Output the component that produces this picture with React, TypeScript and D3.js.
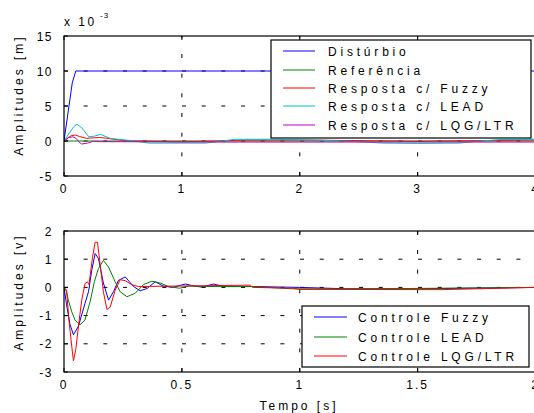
import React, { useEffect } from "react";
import * as d3 from "d3";

type P = [number, number];

// ---------- top plot data (x 1e-3 m) ----------
const topXTicks = [0, 1, 2, 3, 4];
const topYTicks = [-5, 0, 5, 10, 15];
const disturbio: P[] = [[0, 0], [0.07, 8.3], [0.1, 10], [4, 10]];
const referencia: P[] = [[0, 0], [4, 0]];
const respFuzzy: P[] = [
  [0, 0], [0.03, 0.4], [0.06, 0.75], [0.095, 0.86], [0.13, 0.65], [0.19, 0.38], [0.25, 0.45],
  [0.3, 0.5], [0.35, 0.42], [0.42, 0.25], [0.5, 0.1], [0.6, 0.0], [0.8, -0.05], [1.0, -0.1],
  [1.3, 0.0], [1.5, 0.12], [2.0, 0.15], [2.5, 0.05], [3.0, -0.05], [3.5, 0.05], [4.0, 0.15],
];
const respLead: P[] = [
  [0, 0], [0.04, 1.0], [0.08, 2.0], [0.11, 2.4], [0.15, 1.9], [0.21, 0.6], [0.26, 0.7],
  [0.31, 0.95], [0.39, 0.38], [0.52, 0.14], [0.6, 0.0], [0.72, -0.3], [1.0, -0.3], [1.2, -0.3],
  [1.35, 0.0], [1.45, 0.25], [1.8, 0.25], [2.2, 0.1], [2.5, -0.1], [2.7, -0.3], [3.0, -0.35],
  [3.35, -0.3], [3.5, -0.05], [3.7, 0.2], [4.0, 0.25],
];
const respLqg: P[] = [
  [0, 0], [0.04, 0.5], [0.075, 0.6], [0.1, 0.4], [0.13, -0.2], [0.15, -0.43], [0.2, -0.3],
  [0.25, -0.05], [0.3, -0.1], [0.5, -0.1], [1, -0.15], [2, -0.15], [3, -0.15], [4, -0.15],
];

// ---------- bottom plot data (V) ----------
const botXTicks = [0, 0.5, 1, 1.5, 2];
const botXLabels = ["0", "0.5", "1", "1.5", "2"];
const botYTicks = [-3, -2, -1, 0, 1, 2];
const ctrlFuzzy: P[] = [
  [0, 0], [0.011, -0.62], [0.025, -1.3], [0.04, -1.68], [0.061, -1.38], [0.089, -0.57],
  [0.104, -0.15], [0.118, 0.62], [0.132, 1.2], [0.146, 1.03], [0.167, 0.16], [0.189, -0.45],
  [0.21, -0.15], [0.231, 0.25], [0.26, 0.37], [0.295, 0.03], [0.323, -0.12], [0.352, -0.04],
  [0.387, 0.2], [0.42, 0.05], [0.46, 0], [0.515, 0.12], [0.55, 0.05], [0.586, 0.01],
  [0.634, 0.12], [0.68, 0.03], [0.8, 0.03], [1.0, 0.0], [1.2, -0.05], [1.5, -0.05],
  [1.8, -0.02], [2, 0],
];
const ctrlLead: P[] = [
  [0, 0], [0.011, -0.15], [0.018, -0.44], [0.033, -0.87], [0.047, -1.16], [0.068, -1.33],
  [0.089, -1.16], [0.111, -0.5], [0.129, 0.21], [0.146, 0.67], [0.167, 0.96], [0.189, 0.72],
  [0.217, 0.2], [0.238, -0.15], [0.267, -0.33], [0.302, -0.21], [0.337, 0.1], [0.373, 0.22],
  [0.41, 0.15], [0.444, 0.03], [0.49, -0.03], [0.53, 0.05], [0.6, 0.03], [0.8, 0.03],
  [0.97, -0.05], [1.3, -0.05], [1.6, -0.03], [2, 0],
];
const ctrlLqg: P[] = [
  [0, 0], [0.011, -0.1], [0.021, -1.16], [0.033, -2.1], [0.04, -2.6], [0.05, -2.2],
  [0.061, -1.4], [0.075, -0.46], [0.089, 0.13], [0.099, 0.2], [0.106, 0.1], [0.121, 1.07],
  [0.132, 1.6], [0.142, 1.6], [0.153, 0.84], [0.167, -0.15], [0.182, -0.78], [0.196, -0.7],
  [0.217, -0.1], [0.238, 0.27], [0.26, 0.24], [0.288, 0.09], [0.316, 0.03], [0.5, 0.05],
  [0.79, 0.08], [0.8, 0.0], [0.97, -0.03], [1.0, -0.07], [1.6, -0.08], [2, 0],
];

const topLegend = ["Distúrbio", "Referência", "Resposta c/ Fuzzy", "Resposta c/ LEAD", "Resposta c/ LQG/LTR"];
const botLegend = ["Controle Fuzzy", "Controle LEAD", "Controle LQG/LTR"];

const C = { blue: "#0000ff", green: "#008000", red: "#ff0000", cyan: "#00bfbf", magenta: "#bf00bf" };
const FONT = "'Liberation Sans', Arial, Helvetica, sans-serif";

const W = 534, H = 413;
const left = 64, right = 535.5;

interface PanelProps {
  top: number; bottom: number;
  xDomain: [number, number]; yDomain: [number, number];
  xTicks: number[]; xLabels: string[]; yTicks: number[];
  series: { data: P[]; color: string }[];
}

function Panel({ top, bottom, xDomain, yDomain, xTicks, xLabels, yTicks, series }: PanelProps) {
  const x = d3.scaleLinear().domain(xDomain).range([left, right]);
  const y = d3.scaleLinear().domain(yDomain).range([bottom, top]);
  const line = d3.line<P>().x((d) => x(d[0])).y((d) => y(d[1]));
  const dash = "4 15.67";
  return (
    <g>
      <defs>
        <clipPath id={`clip${top}`}>
          <rect x={left} y={top} width={right - left} height={bottom - top} />
        </clipPath>
      </defs>
      {yTicks.slice(1, -1).map((t) => (
        <line key={"gy" + t} x1={left} x2={right} y1={y(t)} y2={y(t)} stroke="#000" strokeWidth={1} strokeDasharray={dash} />
      ))}
      {xTicks.slice(1, -1).map((t) => (
        <line key={"gx" + t} x1={x(t)} x2={x(t)} y1={bottom} y2={top} stroke="#000" strokeWidth={1} strokeDasharray={dash} />
      ))}
      <g clipPath={`url(#clip${top})`}>
        {series.map((s, i) => (
          <path key={i} d={line(s.data) || ""} fill="none" stroke={s.color} strokeWidth={1} />
        ))}
      </g>
      <rect x={left} y={top} width={right - left} height={bottom - top} fill="none" stroke="#000" strokeWidth={1.2} />
      {yTicks.map((t) => (
        <g key={"ty" + t}>
          <line x1={left} x2={left + 4} y1={y(t)} y2={y(t)} stroke="#000" />
          <text x={53} y={y(t) + 4.5} textAnchor="end" fontFamily={FONT} fontSize={12} letterSpacing={1.5} fill="#000">
            {t}
          </text>
        </g>
      ))}
      {xTicks.map((t, i) => (
        <g key={"tx" + t}>
          <line x1={x(t)} x2={x(t)} y1={bottom} y2={bottom - 4} stroke="#000" />
          <line x1={x(t)} x2={x(t)} y1={top} y2={top + 4} stroke="#000" />
          <text x={x(t)} y={bottom + 17} textAnchor="middle" fontFamily={FONT} fontSize={12} letterSpacing={2} fill="#000">
            {xLabels[i]}
          </text>
        </g>
      ))}
    </g>
  );
}

function Legend({ x0, y0, w, h, items, colors, rowY, lineX, textX }: {
  x0: number; y0: number; w: number; h: number; items: string[]; colors: string[]; rowY: number[];
  lineX: [number, number]; textX: number;
}) {
  return (
    <g>
      <rect x={x0} y={y0} width={w} height={h} fill="#fff" stroke="#000" strokeWidth={1.2} />
      {items.map((it, i) => (
        <g key={it}>
          <line x1={lineX[0]} x2={lineX[1]} y1={rowY[i]} y2={rowY[i]} stroke={colors[i]} strokeWidth={1} />
          <text x={textX} y={rowY[i] + 4.5} fontFamily={FONT} fontSize={12} letterSpacing={3.8} fill="#000">
            {it}
          </text>
        </g>
      ))}
    </g>
  );
}

export default function App() {
  useEffect(() => {
    document.body.style.margin = "0";
  }, []);
  return (
    <svg width={W} height={H} style={{ display: "block", background: "#fff" }}>
      <rect width={W} height={H} fill="#fff" />
      <Panel
        top={36} bottom={176} xDomain={[0, 4]} yDomain={[-5, 15]}
        xTicks={topXTicks} xLabels={topXTicks.map(String)} yTicks={topYTicks}
        series={[
          { data: disturbio, color: C.blue },
          { data: referencia, color: C.green },
          { data: respFuzzy, color: C.red },
          { data: respLead, color: C.cyan },
          { data: respLqg, color: C.magenta },
        ]}
      />
      <Panel
        top={231} bottom={372} xDomain={[0, 2]} yDomain={[-3, 2]}
        xTicks={botXTicks} xLabels={botXLabels} yTicks={botYTicks}
        series={[
          { data: ctrlFuzzy, color: C.blue },
          { data: ctrlLead, color: C.green },
          { data: ctrlLqg, color: C.red },
        ]}
      />
      <Legend
        x0={271} y0={40} w={260} h={98} items={topLegend}
        colors={[C.blue, C.green, C.red, C.cyan, C.magenta]}
        rowY={[51, 70, 88, 106, 125]} lineX={[283, 315]} textX={328}
      />
      <Legend
        x0={302} y0={306} w={227} h={61} items={botLegend}
        colors={[C.blue, C.green, C.red]}
        rowY={[317, 337, 356]} lineX={[314, 347]} textX={358}
      />
      <text x={64} y={26} fontFamily={FONT} fontSize={12} letterSpacing={2.5} fill="#000">
        x 10
      </text>
      <text x={100} y={18} fontFamily={FONT} fontSize={8} letterSpacing={1} fill="#000">
        -3
      </text>
      <text transform="translate(23,95) rotate(-90)" textAnchor="middle" fontFamily={FONT} fontSize={12} letterSpacing={3} fill="#000">
        Amplitudes [m]
      </text>
      <text transform="translate(23,292) rotate(-90)" textAnchor="middle" fontFamily={FONT} fontSize={12} letterSpacing={3} fill="#000">
        Amplitudes [v]
      </text>
      <text x={299} y={410} textAnchor="middle" fontFamily={FONT} fontSize={12} letterSpacing={3} fill="#000">
        Tempo [s]
      </text>
    </svg>
  );
}
